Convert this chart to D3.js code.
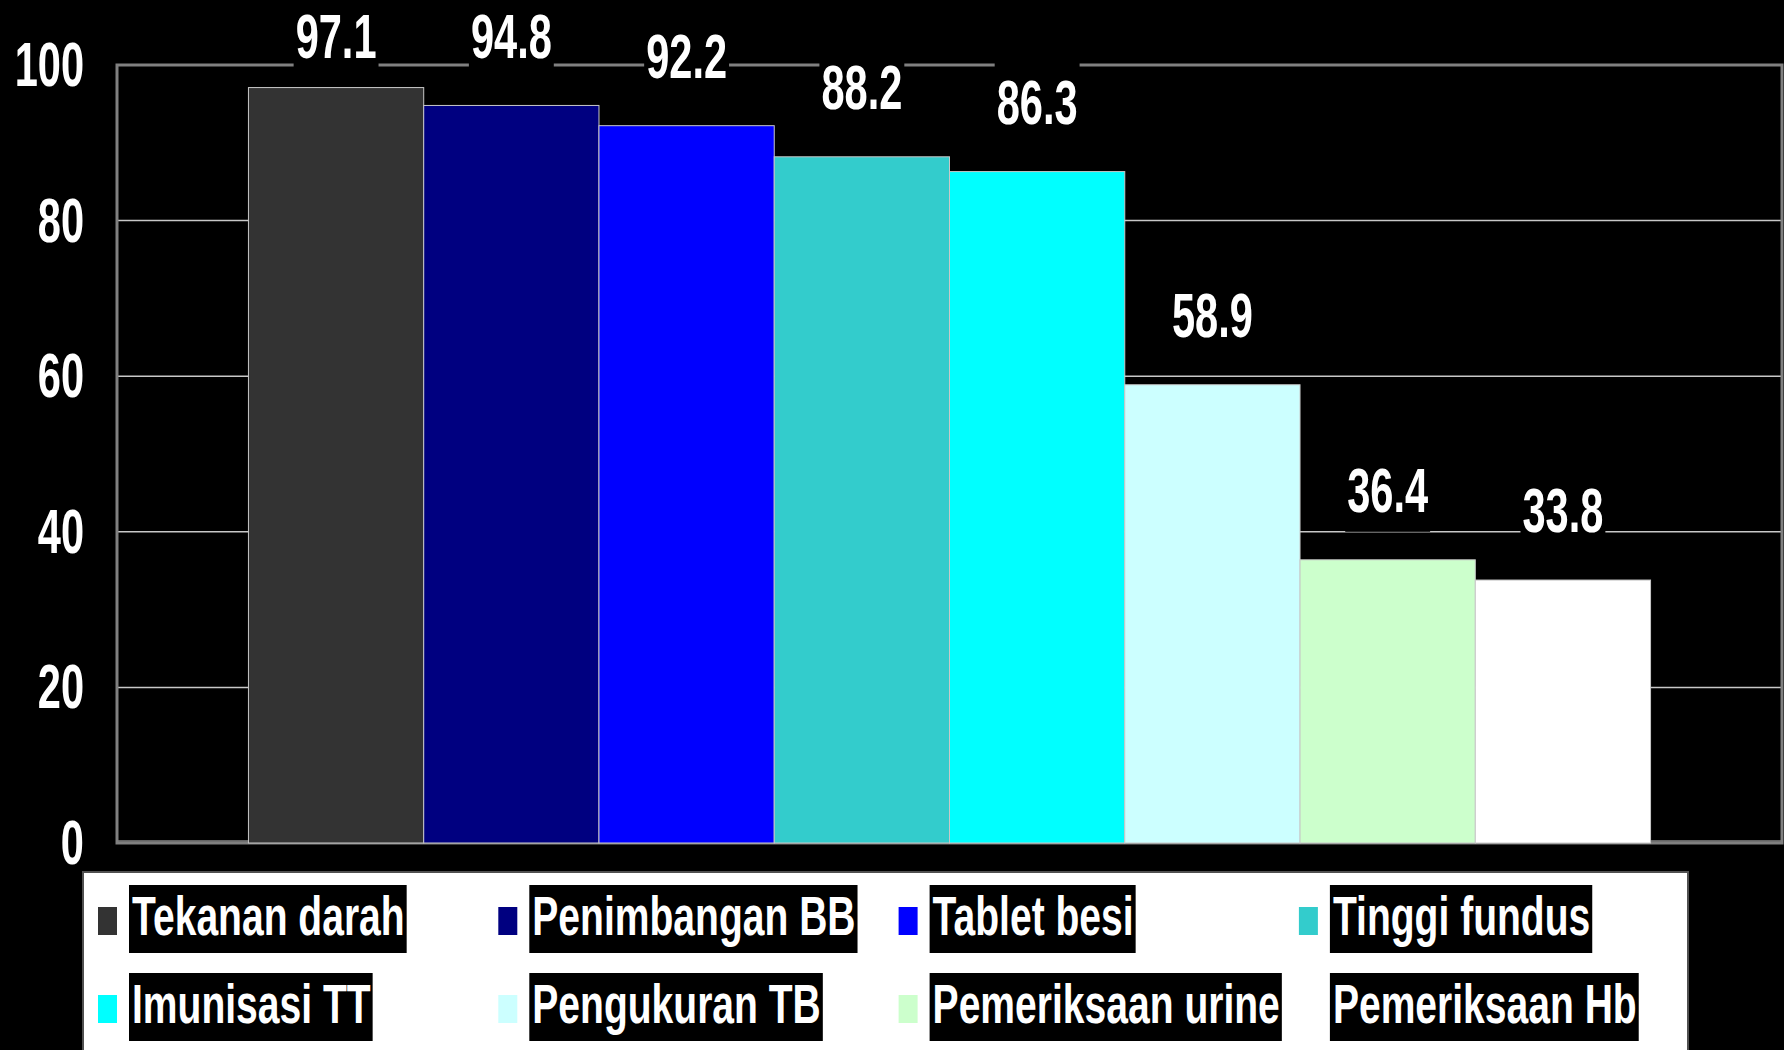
<!DOCTYPE html>
<html>
    <head>
        <meta charset="utf-8">
        <script src="https://d3js.org/d3.v7.min.js"></script>
        <style type="text/css">
            html, body {
                margin: 0;
                padding: 0;
                background: #000;
            }
            svg {
                display: block;
                font-family: "Liberation Sans", Arial, sans-serif;
                font-weight: bold;
            }
        </style>
    </head>
    <body>
        <div id="chart"></div>
        <script>
            // data
            var categories = ["Tekanan darah", "Penimbangan BB", "Tablet besi", "Tinggi fundus",
                              "Imunisasi TT", "Pengukuran TB", "Pemeriksaan urine", "Pemeriksaan Hb"];
            var values = [97.1, 94.8, 92.2, 88.2, 86.3, 58.9, 36.4, 33.8];
            var yTicks = [0, 20, 40, 60, 80, 100];

            var colors = ["#333333", "#000080", "#0000ff", "#33cccc",
                          "#00ffff", "#ccffff", "#ccffcc", "#ffffff"];

            var width = 1784, height = 1050;
            var plot = {left: 117, right: 1782, top: 65, bottom: 843};
            var numScale = 0.66;   // the original text is squeezed horizontally
            var legScale = 0.71;

            var svg = d3.select("#chart").append("svg")
                .attr("width", width)
                .attr("height", height);

            svg.append("rect")
                .attr("width", width)
                .attr("height", height)
                .attr("fill", "#000");

            var x = d3.scaleBand()
                .domain(categories)
                .range([plot.left, plot.right])
                .paddingInner(0)
                .paddingOuter(0.75);

            var y = d3.scaleLinear()
                .domain([0, 100])
                .range([plot.bottom, plot.top]);

            // gridlines
            svg.append("g").selectAll("line")
                .data(yTicks.filter(function (d) { return d > 0 && d < 100; }))
                .enter().append("line")
                .attr("x1", plot.left)
                .attr("x2", plot.right)
                .attr("y1", function (d) { return y(d); })
                .attr("y2", function (d) { return y(d); })
                .attr("stroke", "#c8c8c8")
                .attr("stroke-width", 1.5);

            svg.append("line")
                .attr("x1", plot.left).attr("x2", plot.right)
                .attr("y1", y(0) - 2).attr("y2", y(0) - 2)
                .attr("stroke", "#c8c8c8")
                .attr("stroke-width", 1);

            // plot area border
            svg.append("rect")
                .attr("x", plot.left)
                .attr("y", plot.top)
                .attr("width", plot.right - plot.left)
                .attr("height", plot.bottom - plot.top)
                .attr("fill", "none")
                .attr("stroke", "#808080")
                .attr("stroke-width", 3);

            // bars
            svg.append("g").selectAll("rect")
                .data(values)
                .enter().append("rect")
                .attr("x", function (d, i) { return x(categories[i]); })
                .attr("y", function (d) { return y(d); })
                .attr("width", x.bandwidth())
                .attr("height", function (d) { return y(0) - y(d); })
                .attr("fill", function (d, i) { return colors[i]; })
                .attr("stroke", "#c8c8c8")
                .attr("stroke-width", 1);

            // y axis labels
            svg.append("g").selectAll("g")
                .data(yTicks)
                .enter().append("g")
                .attr("transform", function (d) {
                    return "translate(84," + (y(d) + 21) + ") scale(" + numScale + ",1)";
                })
                .append("text")
                .attr("text-anchor", "end")
                .attr("fill", "#fff")
                .attr("font-size", 63)
                .text(function (d) { return d; });

            // value labels with black boxes
            var labels = svg.append("g").selectAll("g")
                .data(values)
                .enter().append("g")
                .attr("transform", function (d, i) {
                    var cx = x(categories[i]) + x.bandwidth() / 2;
                    var base = Math.max(y(d) - 48, 58);
                    return "translate(" + cx + "," + base + ")";
                });

            labels.each(function (d) {
                var g = d3.select(this);
                var box = g.append("rect").attr("fill", "#000");
                var t = g.append("text")
                    .attr("transform", "scale(" + numScale + ",1)")
                    .attr("text-anchor", "middle")
                    .attr("fill", "#fff")
                    .attr("font-size", 63)
                    .text(d3.format(".1f")(d));
                var w = t.node().getComputedTextLength() * numScale;
                box.attr("x", -w / 2 - 2)
                    .attr("y", -62)
                    .attr("width", w + 4)
                    .attr("height", 82);
            });

            // legend
            svg.append("rect")
                .attr("x", 83)
                .attr("y", 872)
                .attr("width", 1605)
                .attr("height", 200)
                .attr("fill", "#fff")
                .attr("stroke", "#505050")
                .attr("stroke-width", 2);

            var legend = svg.append("g").selectAll("g")
                .data(categories)
                .enter().append("g")
                .attr("transform", function (d, i) {
                    var lx = 98 + (i % 4) * 400.3;
                    var ly = 935 + Math.floor(i / 4) * 88;
                    return "translate(" + lx + "," + ly + ")";
                });

            legend.append("rect")
                .attr("x", 0)
                .attr("y", -28)
                .attr("width", 19)
                .attr("height", 28)
                .attr("fill", function (d, i) { return colors[i]; });

            legend.each(function (d) {
                var g = d3.select(this);
                var box = g.append("rect").attr("fill", "#000");
                var t = g.append("text")
                    .attr("transform", "translate(34,0) scale(" + legScale + ",1)")
                    .attr("fill", "#fff")
                    .attr("font-size", 55)
                    .text(d);
                var w = t.node().getComputedTextLength() * legScale;
                box.attr("x", 31)
                    .attr("y", -50)
                    .attr("width", w + 5)
                    .attr("height", 68);
            });
        </script>
    </body>
</html>
